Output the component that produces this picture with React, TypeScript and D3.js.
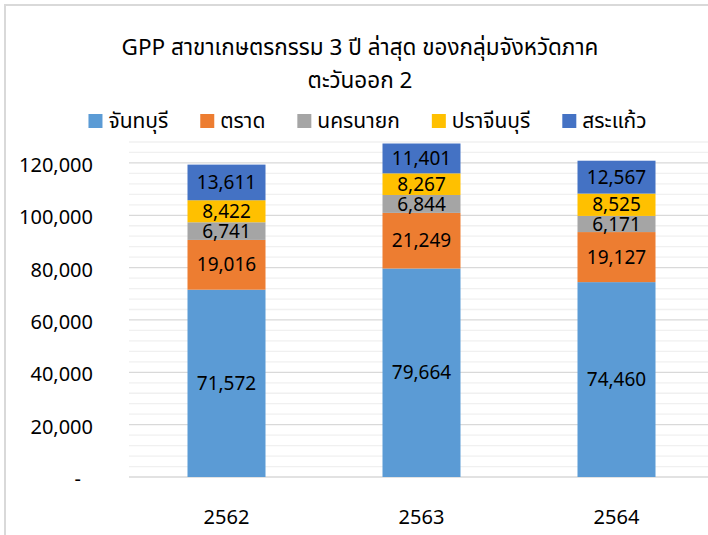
import { useEffect, useRef } from "react";
import * as d3 from "d3";

const years = ["2562", "2563", "2564"];
const provinces = ["จันทบุรี", "ตราด", "นครนายก", "ปราจีนบุรี", "สระแก้ว"];
const chanthaburi = [71572, 79664, 74460];
const trat = [19016, 21249, 19127];
const nakhonNayok = [6741, 6844, 6171];
const prachinBuri = [8422, 8267, 8525];
const sakaeo = [13611, 11401, 12567];
const colors = ["#5B9BD5", "#ED7D31", "#A5A5A5", "#FFC000", "#4472C4"];
const yTicks = [0, 20000, 40000, 60000, 80000, 100000, 120000];
const titleLines = ["GPP สาขาเกษตรกรรม 3 ปี ล่าสุด ของกลุ่มจังหวัดภาค", "ตะวันออก 2"];

const FONT = "Tahoma, 'Noto Sans Thai', 'Liberation Sans', Arial, sans-serif";

function StackedChart() {
  const ref = useRef<SVGSVGElement>(null);
  const width = 708;
  const height = 535;
  const marginTop = 142;
  const marginBottom = 58;
  const marginLeft = 129;
  const plotRight = 714;

  useEffect(() => {
    const svg = d3.select(ref.current);
    svg.selectAll("*").remove();

    const series = [chanthaburi, trat, nakhonNayok, prachinBuri, sakaeo];
    const table = years.map((y, i) => {
      const row: any = { year: y };
      provinces.forEach((p, k) => (row[p] = series[k][i]));
      return row;
    });
    const stacked = d3.stack().keys(provinces)(table);

    const x = d3.scaleBand(years, [marginLeft, plotRight]).paddingInner(0.6).paddingOuter(0.3);
    const y = d3.scaleLinear([0, 128000], [height - marginBottom, marginTop]);

    svg.append("rect").attr("width", width).attr("height", height).attr("fill", "#fff");
    // chart border (cropped at right and bottom)
    svg.append("path")
      .attr("d", `M5,${height} V5 H${width}`)
      .attr("fill", "none")
      .attr("stroke", "#d9d9d9")
      .attr("stroke-width", 2);

    // gridlines: minor every 4,000, major every 20,000
    const grid = svg.append("g");
    grid.selectAll("line.minor")
      .data(d3.range(4000, 128001, 4000).filter(v => v % 20000 !== 0))
      .join("line")
      .attr("x1", marginLeft).attr("x2", plotRight)
      .attr("y1", d => y(d)).attr("y2", d => y(d))
      .attr("stroke", "#f0f0f0").attr("stroke-width", 1.3);
    grid.selectAll("line.major")
      .data(yTicks)
      .join("line")
      .attr("x1", marginLeft).attr("x2", plotRight)
      .attr("y1", d => y(d)).attr("y2", d => y(d))
      .attr("stroke", "#d9d9d9").attr("stroke-width", 1.3);

    // y labels
    svg.append("g")
      .selectAll("text")
      .data(yTicks)
      .join("text")
      .attr("x", d => (d === 0 ? 81 : 93))
      .attr("y", d => y(d) + 2)
      .attr("dy", "0.35em")
      .attr("text-anchor", "end")
      .attr("font-family", FONT)
      .attr("font-size", 20)
      .attr("fill", "#000")
      .text(d => (d === 0 ? "-" : d3.format(",")(d)));

    // x labels
    svg.append("g")
      .selectAll("text")
      .data(years)
      .join("text")
      .attr("x", d => x(d)! + x.bandwidth() / 2)
      .attr("y", 517)
      .attr("dy", "0.35em")
      .attr("text-anchor", "middle")
      .attr("font-family", FONT)
      .attr("font-size", 20)
      .attr("fill", "#000")
      .text(d => d);

    // bars
    const layers = svg.append("g")
      .selectAll("g")
      .data(stacked)
      .join("g")
      .attr("fill", (d, i) => colors[i]);
    layers.selectAll("rect")
      .data(d => d)
      .join("rect")
      .attr("x", d => x(d.data.year)!)
      .attr("width", x.bandwidth())
      .attr("y", d => y(d[1]))
      .attr("height", d => y(d[0]) - y(d[1]));

    // data labels
    layers.selectAll("text")
      .data(d => d.map(v => ({ v, key: d.key })))
      .join("text")
      .attr("x", d => x(d.v.data.year)! + x.bandwidth() / 2)
      .attr("y", d => (y(d.v[0]) + y(d.v[1])) / 2)
      .attr("dy", "0.35em")
      .attr("text-anchor", "middle")
      .attr("font-family", FONT)
      .attr("font-size", 19)
      .attr("fill", "#000")
      .text(d => d3.format(",")(d.v.data[d.key]));

    // title
    svg.append("g")
      .selectAll("text")
      .data(titleLines)
      .join("text")
      .attr("x", 360)
      .attr("y", (d, i) => 47 + i * 33)
      .attr("dy", "0.35em")
      .attr("text-anchor", "middle")
      .attr("font-family", FONT)
      .attr("font-size", 22.5)
      .attr("fill", "#000")
      .text(d => d);

    // legend
    const legend = svg.append("g");
    const items = legend.selectAll("g")
      .data(provinces)
      .join("g");
    items.append("rect")
      .attr("width", 14).attr("height", 14)
      .attr("y", -7)
      .attr("fill", (d, i) => colors[i]);
    const labels = items.append("text")
      .attr("x", 20)
      .attr("dy", "0.35em")
      .attr("font-family", FONT)
      .attr("font-size", 21)
      .attr("fill", "#000")
      .text(d => d);
    const widths = labels.nodes().map(n => (n as SVGTextElement).getComputedTextLength());
    const gap = 32;
    let cx = 0;
    const offsets = widths.map(w => {
      const o = cx;
      cx += 20 + w + gap;
      return o;
    });
    const total = cx - gap;
    const start = 367.5 - total / 2;
    items.attr("transform", (d, i) => `translate(${start + offsets[i]},121)`);
  }, []);

  return <svg ref={ref} width={width} height={height} style={{ display: "block" }} />;
}

export default function App() {
  return (
    <div style={{ position: "absolute", left: 0, top: 0 }}>
      <StackedChart />
    </div>
  );
}
